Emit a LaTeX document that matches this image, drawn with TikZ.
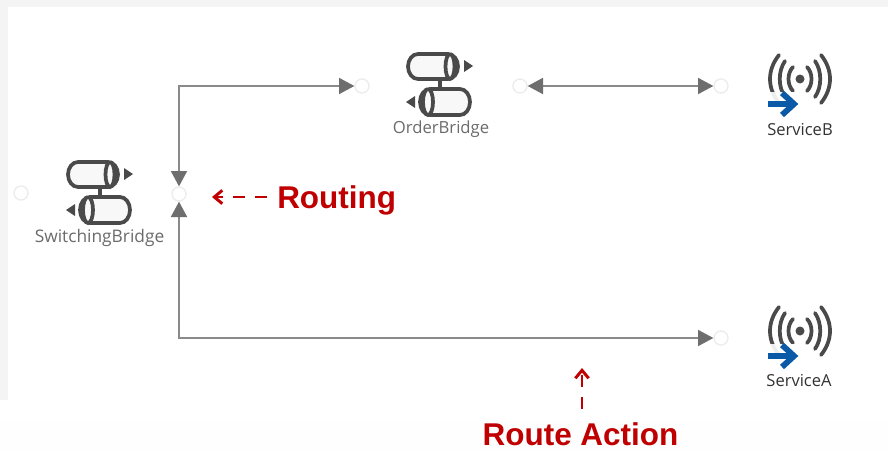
\documentclass[tikz,border=0pt]{standalone}
\usepackage{fontspec}
\setmainfont{Liberation Sans}
\newfontfamily\uifont{Open Sans}
\usetikzlibrary{arrows.meta}
\definecolor{iconink}{HTML}{4A4A4A}
\definecolor{iconfill}{HTML}{F8F8F8}
\definecolor{wireink}{HTML}{8A8A8A}
\definecolor{tipink}{HTML}{6E6E6E}
\definecolor{portink}{HTML}{ECECEC}
\definecolor{noteink}{HTML}{C00000}
\definecolor{bluearrow}{HTML}{0B5AA8}
\definecolor{margin}{HTML}{F4F4F4}
\definecolor{marginb}{HTML}{FEFEFE}
\tikzset{
  port/.style={circle,draw=portink,line width=1pt,fill=white,minimum size=10.5pt,inner sep=0pt},
  wire/.style={draw=wireink,line width=1.4pt,{Triangle[length=11.5pt,width=12pt,fill=tipink,color=tipink]}-{Triangle[length=11.5pt,width=12pt,fill=tipink,color=tipink]}},
  bridgelabel/.style={font=\uifont\fontsize{13}{15}\selectfont,text=black!58,inner sep=0pt},
  orderlabelstyle/.style={font=\uifont\fontsize{12.5}{15}\selectfont,text=black!58,inner sep=0pt},
  servicelabel/.style={font=\uifont\fontsize{12.4}{14}\selectfont,text=black!80,inner sep=0pt},
  notelabel/.style={font=\fontsize{23.6}{28}\selectfont\bfseries,text=noteink,inner sep=0pt},
  note/.style={draw=noteink,line width=2.2pt,dash pattern=on 9pt off 7.5pt,-{Straight Barb[length=6pt,width=10pt,line width=2.2pt]}},
  cyl/.style={draw=iconink,fill=iconfill,line width=2.8pt},
  bridgeicon/.pic={
    \fill[iconink] (-2,-18) rectangle (2,18);
    \draw[cyl] (-22,-30) -- (8,-30) arc[start angle=-90,end angle=90,x radius=10,y radius=12.5] -- (-22,-5)
       arc[start angle=90,end angle=270,x radius=10,y radius=12.5] -- cycle;
    \draw[cyl] (10,-30) arc[start angle=-90,end angle=270,x radius=4.5,y radius=12.5];
    \draw[cyl] (-10,5) -- (20,5) arc[start angle=-90,end angle=90,x radius=10,y radius=13] -- (-10,31)
       arc[start angle=90,end angle=270,x radius=10,y radius=13] -- cycle;
    \draw[cyl] (-12,5) arc[start angle=-90,end angle=270,x radius=5,y radius=13];
    \fill[iconink] (24,-24) -- (33,-18) -- (24,-12) -- cycle;
    \fill[iconink] (-25,12) -- (-34,18) -- (-25,24) -- cycle;
  },
  serviceicon/.pic={
    \fill[iconink] (0,0) circle[radius=4.5];
    \foreach \s in {-1,1}{
      \draw[iconink,line width=2.8pt,line cap=round] (\s*7,-12) .. controls (\s*13,-6) and (\s*13,6) .. (\s*7,12);
      \draw[iconink,line width=2.8pt,line cap=round] (\s*15,-18) .. controls (\s*22,-8) and (\s*22,8) .. (\s*15,18);
      \draw[iconink,line width=2.8pt,line cap=round] (\s*21,-24) .. controls (\s*33,-9) and (\s*33,9) .. (\s*21,24);
    }
    \fill[white,opacity=.9] (-33,13) rectangle (-2,38);
    \draw[bluearrow,line width=4.4pt] (-32,25) -- (-6,25);
    \draw[bluearrow,line width=4.4pt] (-18,14) -- (-6,25) -- (-18,36);
  },
}
\begin{document}
\begin{tikzpicture}[x=0.75pt,y=-0.75pt]
\useasboundingbox (0,0) rectangle (888,450);
\fill[white] (0,0) rectangle (888,450);
\fill[margin] (0,0) rectangle (888,7);
\fill[margin] (0,0) rectangle (8,400);
\fill[marginb] (0,422) rectangle (888,450);

\pic at (100,192) {bridgeicon};
\pic at (440,84) {bridgeicon};
\pic at (800,79) {serviceicon};
\pic at (800,331) {serviceicon};

\node[bridgelabel] (switchinglabel) at (99.5,238) {SwitchingBridge};
\node[orderlabelstyle] (orderlabel) at (441,129.5) {OrderBridge};
\node[servicelabel] (serviceblabel) at (800,130) {ServiceB};
\node[servicelabel] (servicealabel) at (799,381) {ServiceA};

\node[port] (swin) at (21,193) {};
\node[port] (swout) at (179,194) {};
\node[port] (ordin) at (362,86) {};
\node[port] (ordout) at (520,86) {};
\node[port] (svcb) at (721,86) {};
\node[port] (svca) at (721,338) {};

\draw[wire] (swout.north) |- (ordin.west);
\draw[wire] (swout.south) |- (svca.west);
\draw[wire] (ordout.east) -- (svcb.west);

\node[notelabel,anchor=west] (routing) at (277,200.5) {Routing};
\node[notelabel] (routeaction) at (580.5,434) {Route Action};
\coordinate (routingtip) at (212,197);
\coordinate (actiontip) at (582,368);
\draw[note,shorten <=7.5pt] (routing.west |- routingtip) -- (routingtip);
\draw[note,shorten <=10pt] (routeaction.north -| actiontip) -- (actiontip);
\end{tikzpicture}
\end{document}
